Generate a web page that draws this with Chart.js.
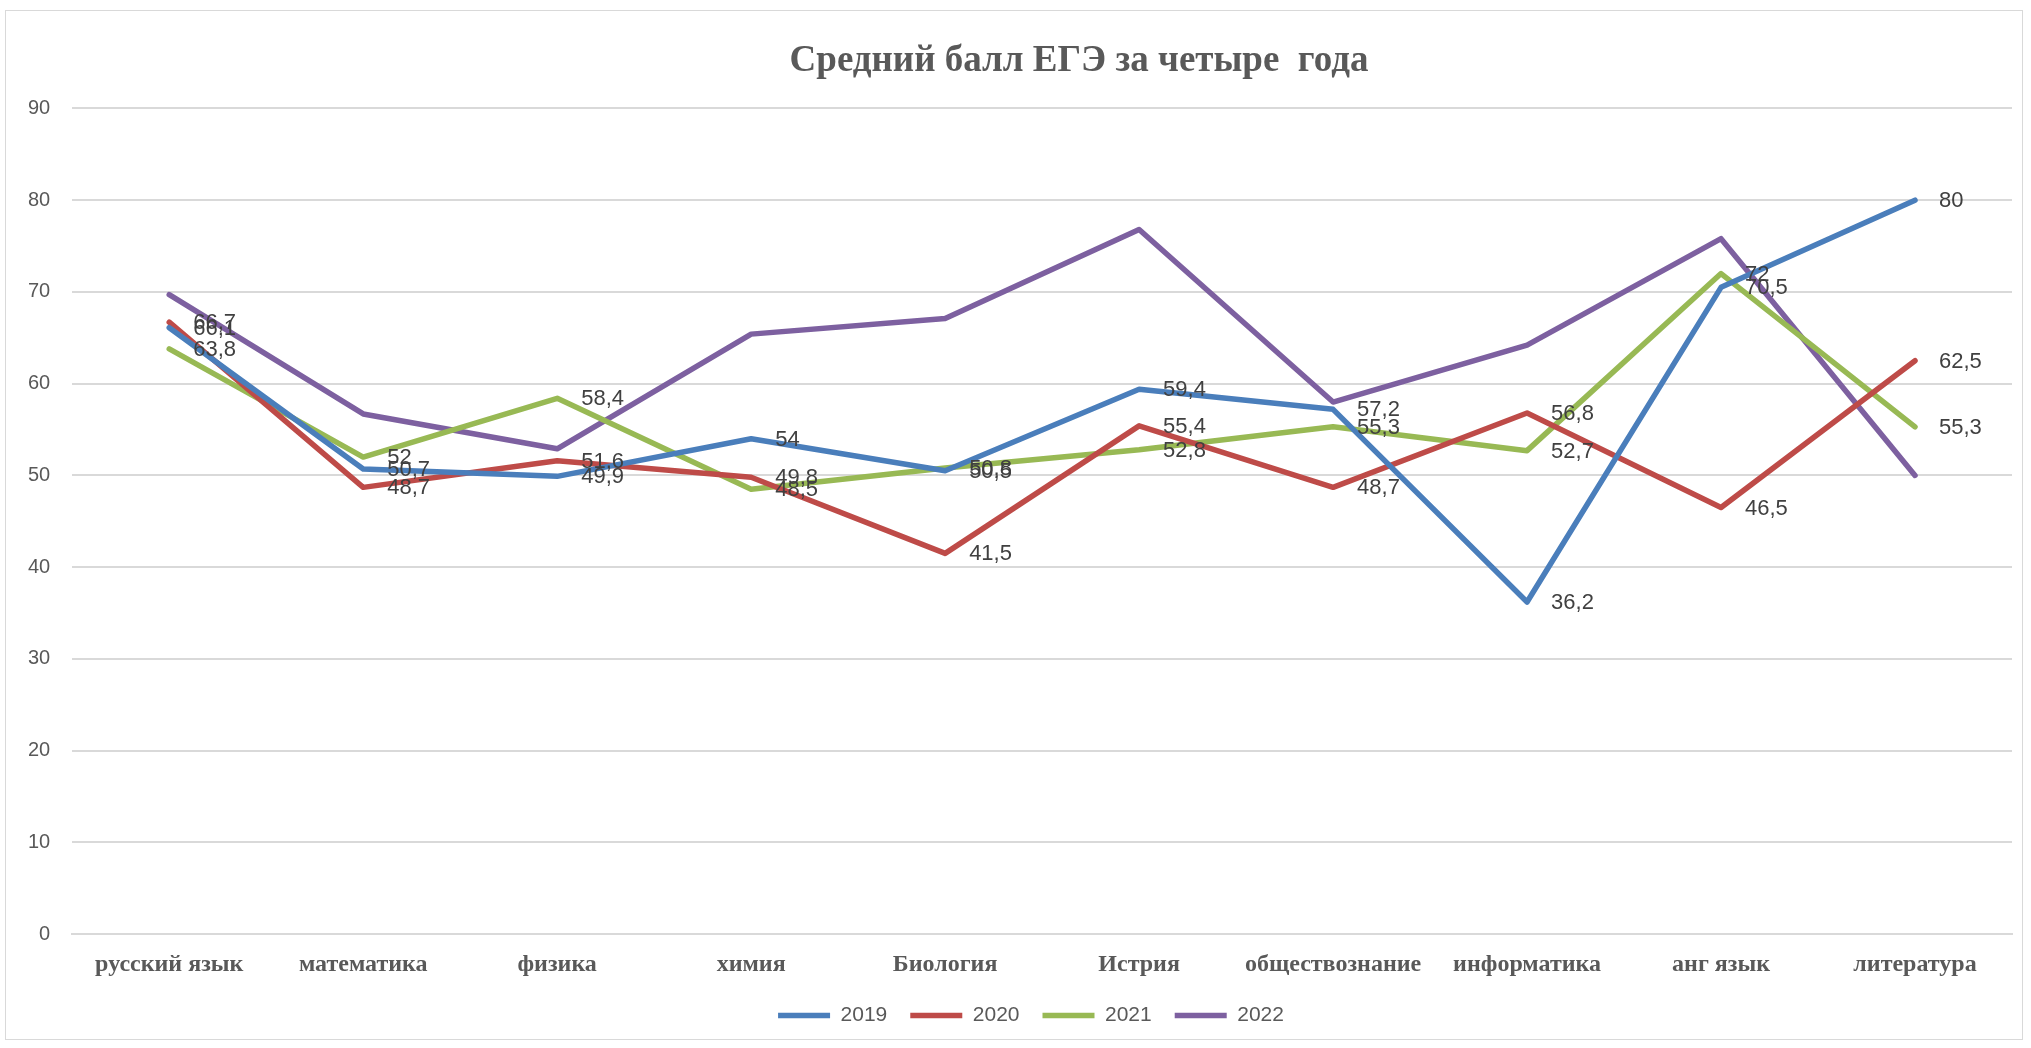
<!DOCTYPE html>
<html>
<head>
<meta charset="utf-8">
<script src="https://cdn.jsdelivr.net/npm/chart.js@4.4.1/dist/chart.umd.min.js"></script>
<style>
  html, body { margin: 0; padding: 0; background: #fff; }
  #box {
    position: absolute; left: 5px; top: 10px;
    width: 2018px; height: 1030px;
    border: 1px solid #d9d9d9; box-sizing: border-box;
  }
</style>
</head>
<body>
<div id="box"><canvas id="myLineChart"></canvas></div>
<script>
// categories (subjects)
const subjects = ['русский язык', 'математика', 'физика', 'химия', 'Биология',
  'Истрия', 'обществознание', 'информатика', 'анг язык', 'литература'];

// average scores per year
const y2019 = [66.1, 50.7, 49.9, 54, 50.5, 59.4, 57.2, 36.2, 70.5, 80];
const y2020 = [66.7, 48.7, 51.6, 49.8, 41.5, 55.4, 48.7, 56.8, 46.5, 62.5];
const y2021 = [63.8, 52, 58.4, 48.5, 50.8, 52.8, 55.3, 52.7, 72, 55.3];
const y2022 = [69.7, 56.7, 52.9, 65.4, 67.1, 76.8, 58, 64.2, 75.8, 50];

const yTicks = [0, 10, 20, 30, 40, 50, 60, 70, 80, 90];

// draws value labels to the right of each point (like Excel "right" position)
const valueLabels = {
  id: 'valueLabels',
  afterLayout(chart) {
    // title and legend in the original sit a bit right of centre
    if (chart.titleBlock) {
      chart.titleBlock.left += 70;
      chart.titleBlock.right += 70;
    }
    if (chart.legend) {
      chart.legend.left += 22;
      chart.legend.right += 22;
    }
  },
  afterDatasetsDraw(chart) {
    const ctx = chart.ctx;
    ctx.save();
    ctx.font = '22px "Liberation Sans", Arial, sans-serif';
    ctx.fillStyle = '#404040';
    ctx.textAlign = 'left';
    ctx.textBaseline = 'middle';
    chart.data.datasets.forEach((ds, i) => {
      if (!ds.showValues) return;
      chart.getDatasetMeta(i).data.forEach((pt, j) => {
        const txt = String(ds.data[j]).replace('.', ',');
        ctx.fillText(txt, pt.x + 24, pt.y + 1);
      });
    });
    ctx.restore();
  }
};

function line(label, data, color, showValues) {
  return {
    label: label,
    data: data,
    borderColor: color,
    backgroundColor: color,
    borderWidth: 5.5,
    borderCapStyle: 'round',
    borderJoinStyle: 'round',
    pointRadius: 0,
    pointHoverRadius: 0,
    tension: 0,
    showValues: showValues
  };
}

var ctx = document.getElementById('myLineChart');
var myLineChart = new Chart(ctx, {
  type: 'line',
  data: {
    labels: subjects,
    datasets: [
      line('2019', y2019, '#4a7ebb', true),
      line('2020', y2020, '#be4b48', true),
      line('2021', y2021, '#98b954', true),
      line('2022', y2022, '#7d60a0', false)
    ]
  },
  options: {
    responsive: true,
    maintainAspectRatio: false,
    animation: false,
    layout: { padding: { left: 0, right: 10, top: 0, bottom: 3 } },
    scales: {
      x: {
        offset: true,
        grid: { display: false, drawTicks: false },
        border: { display: true, color: '#d9d9d9', width: 2 },
        afterFit(axis) { axis.height -= 13; },
        ticks: {
          color: '#595959',
          padding: 16,
          maxRotation: 0,
          autoSkip: false,
          font: { family: '"Liberation Serif", "Times New Roman", serif', size: 24, weight: 'bold' }
        }
      },
      y: {
        min: 0,
        max: 90,
        afterBuildTicks(axis) { axis.ticks = yTicks.map(v => ({ value: v })); },
        grid: { color: '#d9d9d9', lineWidth: 2, drawTicks: false },
        border: { display: false },
        ticks: {
          color: '#595959',
          padding: 22,
          font: { family: '"Liberation Sans", Arial, sans-serif', size: 20 }
        }
      }
    },
    plugins: {
      title: {
        display: true,
        text: 'Средний балл ЕГЭ за четыре  года',
        color: '#595959',
        font: { family: '"Liberation Serif", "Times New Roman", serif', size: 37, weight: 'bold' },
        padding: { top: 28, bottom: 25 }
      },
      legend: {
        position: 'bottom',
        labels: {
          usePointStyle: true,
          pointStyle: 'line',
          pointStyleWidth: 52,
          color: '#595959',
          padding: 23,
          font: { family: '"Liberation Sans", Arial, sans-serif', size: 21 }
        }
      },
      tooltip: { enabled: false }
    }
  },
  plugins: [valueLabels]
});
</script>
</body>
</html>
